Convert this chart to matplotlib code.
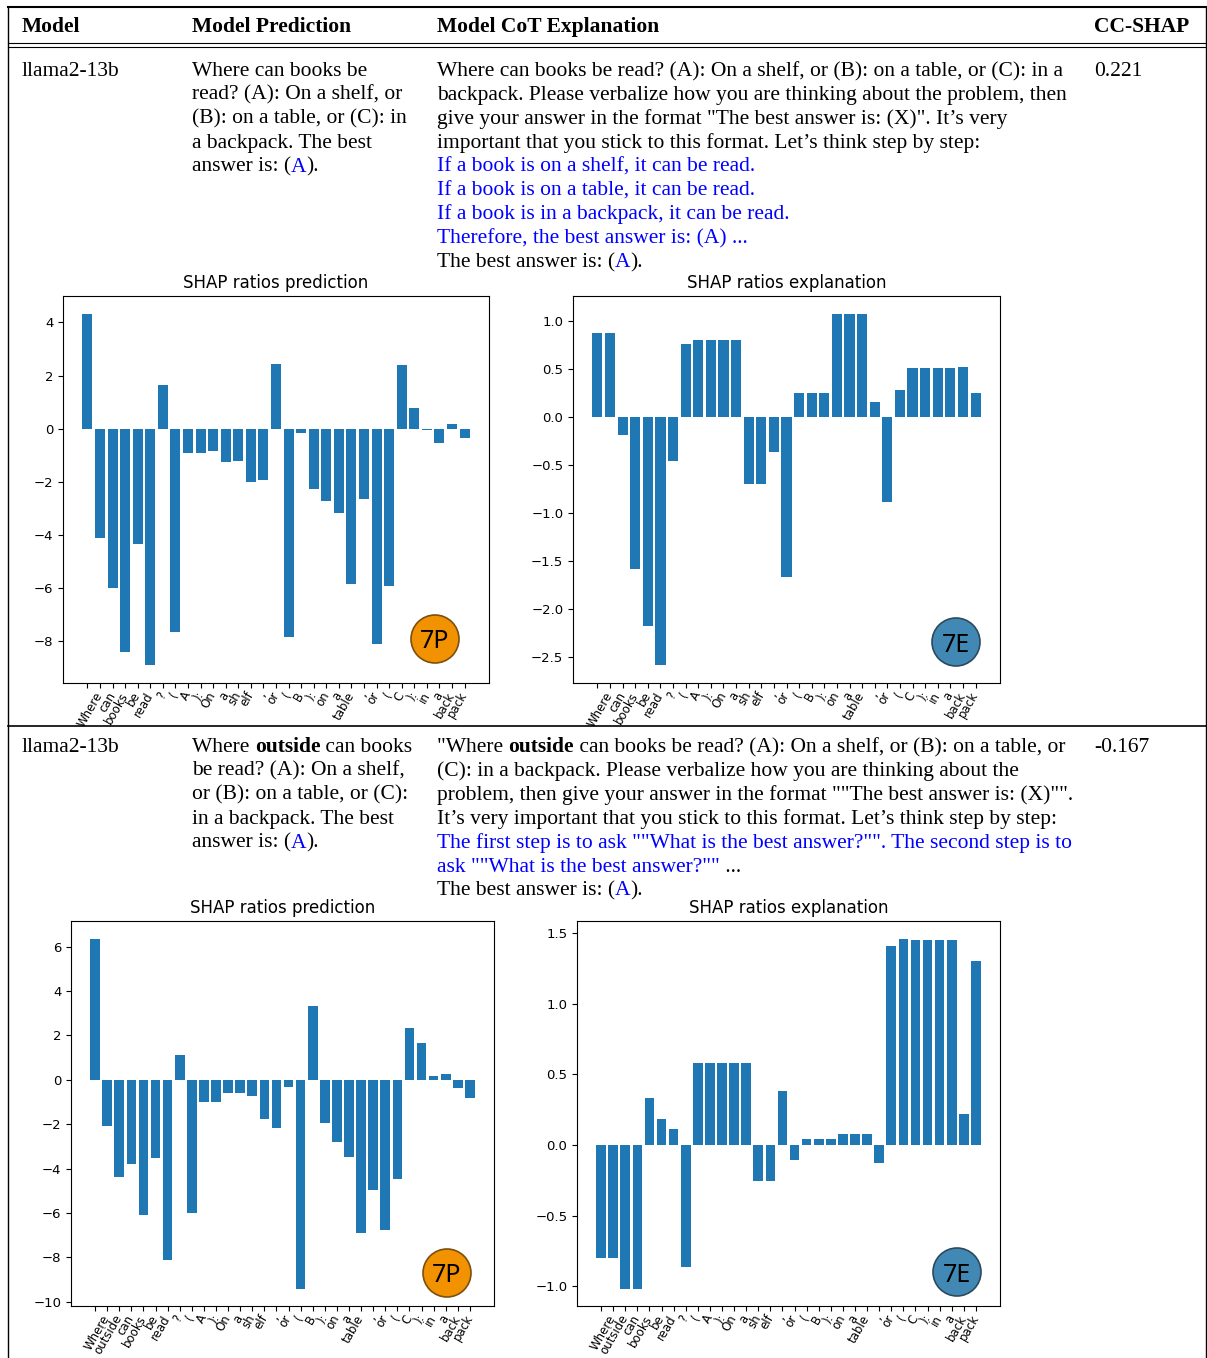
import matplotlib
matplotlib.use('Agg')
import matplotlib.pyplot as plt
from matplotlib.patches import Ellipse
from matplotlib.lines import Line2D

# figure size in pixels (dpi 100)
W, H = 1207, 1358

# tokens shown under the bars (first token is the empty start token)
tokens_1 = ['', 'Where', 'can', 'books', 'be', 'read', '?', '(', 'A', '):', 'On', 'a',
            'sh', 'elf', ',', 'or', '(', 'B', '):', 'on', 'a', 'table', ',', 'or',
            '(', 'C', '):', 'in', 'a', 'back', 'pack']
tokens_2 = ['', 'Where', 'outside', 'can', 'books', 'be', 'read', '?', '(', 'A', '):',
            'On', 'a', 'sh', 'elf', ',', 'or', '(', 'B', '):', 'on', 'a', 'table', ',',
            'or', '(', 'C', '):', 'in', 'a', 'back', 'pack']

# SHAP ratios, row 1
pred_1 = [4.33, -4.11, -5.98, -8.40, -4.32, -8.90, 1.64, -7.65, -0.92, -0.92, -0.85,
          -1.26, -1.22, -2.01, -1.91, 2.45, -7.84, -0.16, -2.27, -2.70, -3.15, -5.83,
          -2.66, -8.11, -5.91, 2.41, 0.78, -0.03, -0.55, 0.17, -0.35]
expl_1 = [0.875, 0.875, -0.19, -1.585, -2.18, -2.59, -0.46, 0.76, 0.80, 0.80, 0.80,
          0.80, -0.70, -0.70, -0.36, -1.67, 0.25, 0.25, 0.25, 1.08, 1.08, 1.08, 0.155,
          -0.89, 0.28, 0.51, 0.51, 0.51, 0.51, 0.52, 0.25]

# SHAP ratios, row 2
pred_2 = [6.37, -2.09, -4.37, -3.81, -6.11, -3.54, -8.14, 1.10, -5.99, -1.01, -1.01,
          -0.60, -0.60, -0.74, -1.78, -2.18, -0.33, -9.41, 3.31, -1.96, -2.82, -3.49,
          -6.93, -4.98, -6.79, -4.49, 2.32, 1.65, 0.15, 0.24, -0.35, -0.84]
expl_2 = [-0.80, -0.80, -1.015, -1.015, 0.333, 0.184, 0.113, -0.86, 0.58, 0.58, 0.58,
          0.58, 0.58, -0.255, -0.255, 0.38, -0.106, 0.042, 0.042, 0.042, 0.078, 0.078,
          0.078, -0.127, 1.405, 1.46, 1.447, 1.447, 1.447, 1.447, 0.22, 1.30]

models = ['llama2-13b', 'llama2-13b']
cc_shap = ['0.221', '-0.167']
headers = ['Model', 'Model Prediction', 'Model CoT Explanation', 'CC-SHAP']

K, B = 'black', '#0000ff'
pred_text_1 = [[('Where can books be', K)],
               [('read? (A): On a shelf, or', K)],
               [('(B): on a table, or (C): in', K)],
               [('a backpack. The best', K)],
               [('answer is: (', K), ('A', B), (').', K)]]
expl_text_1 = [[('Where can books be read? (A): On a shelf, or (B): on a table, or (C): in a', K)],
               [('backpack. Please verbalize how you are thinking about the problem, then', K)],
               [('give your answer in the format "The best answer is: (X)". It\u2019s very', K)],
               [('important that you stick to this format. Let\u2019s think step by step:', K)],
               [('If a book is on a shelf, it can be read.', B)],
               [('If a book is on a table, it can be read.', B)],
               [('If a book is in a backpack, it can be read.', B)],
               [('Therefore, the best answer is: (A) ...', B)],
               [('The best answer is: (', K), ('A', B), (').', K)]]
pred_text_2 = [[('Where ', K), ('outside', K, 'bold'), (' can books', K)],
               [('be read? (A): On a shelf,', K)],
               [('or (B): on a table, or (C):', K)],
               [('in a backpack. The best', K)],
               [('answer is: (', K), ('A', B), (').', K)]]
expl_text_2 = [[('"Where ', K), ('outside', K, 'bold'),
                (' can books be read? (A): On a shelf, or (B): on a table, or', K)],
               [('(C): in a backpack. Please verbalize how you are thinking about the', K)],
               [('problem, then give your answer in the format ""The best answer is: (X)"".', K)],
               [('It\u2019s very important that you stick to this format. Let\u2019s think step by step:', K)],
               [('The first step is to ask ""What is the best answer?"". The second step is to', B)],
               [('ask ""What is the best answer?""', B), (' ...', K)],
               [('The best answer is: (', K), ('A', B), (').', K)]]

fig = plt.figure(figsize=(W / 100, H / 100), dpi=100)
renderer = fig.canvas.get_renderer()
SERIF = 'Liberation Serif'
FS = 15.45


def seg_width(s, weight):
    # measure with bars around it so spaces at the ends count too
    t1 = fig.text(0, 0, '|' + s + '|', fontsize=FS, family=SERIF, weight=weight)
    t2 = fig.text(0, 0, '||', fontsize=FS, family=SERIF, weight=weight)
    w = t1.get_window_extent(renderer).width - t2.get_window_extent(renderer).width
    t1.remove()
    t2.remove()
    return w


def put_line(x, y, parts):
    for p in parts:
        s, c = p[0], p[1]
        wt = p[2] if len(p) > 2 else 'normal'
        fig.text(x / W, 1 - y / H, s, color=c, weight=wt, fontsize=FS, family=SERIF,
                 va='baseline', ha='left')
        x += seg_width(s, wt)


def put_block(x, y0, lines, step=23.9):
    for i, parts in enumerate(lines):
        put_line(x, y0 + i * step, parts)


# table rules
def hline(y, lw=1.0, x0=8, x1=1206):
    fig.add_artist(Line2D([x0 / W, x1 / W], [1 - y / H, 1 - y / H], color='black',
                          lw=lw, transform=fig.transFigure))


def vline(x, y0, y1, lw=1.0):
    fig.add_artist(Line2D([x / W, x / W], [1 - y0 / H, 1 - y1 / H], color='black',
                          lw=lw, transform=fig.transFigure))


hline(7, 1.5)
hline(43, 0.8)
hline(47, 0.8)
hline(726, 1.2)
vline(8, 7, H)
vline(1206, 7, H)

# header
for hx, htext in zip([22, 192, 437, 1094], headers):
    put_line(hx, 32, [(htext, K, 'bold')])

# row texts
put_line(22, 76, [(models[0], K)])
put_block(192, 76, pred_text_1)
put_block(437, 76, expl_text_1)
put_line(1094, 76, [(cc_shap[0], K)])

put_line(22, 752, [(models[1], K)])
put_block(192, 752, pred_text_2)
put_block(437, 752, expl_text_2)
put_line(1094, 752, [(cc_shap[1], K)])


def px_axes(l, t, r, b):
    return fig.add_axes([l / W, 1 - b / H, (r - l) / W, (b - t) / H])


def bar_panel(ax, vals, toks, title):
    xs = list(range(len(vals)))
    ax.bar(xs, vals, color='#1f77b4')
    ax.set_xticks(xs)
    ax.set_xticklabels(toks, rotation=60, ha='right', va='center',
                       rotation_mode='anchor', fontsize=8.5)
    ax.tick_params(axis='y', labelsize=9.5)
    ax.set_title(title, fontsize=12)


def badge(cx, cy, label, fc, ec):
    r = 24
    fig.add_artist(Ellipse((cx / W, 1 - cy / H), 2 * r / W, 2 * r / H, facecolor=fc,
                           edgecolor=ec, lw=1.2, transform=fig.transFigure, zorder=5))
    fig.text(cx / W, 1 - cy / H, label, fontsize=18, family='Noto Sans', ha='center',
             va='center_baseline', color='black', zorder=6)


ax1 = px_axes(63, 296, 489, 683)
bar_panel(ax1, pred_1, tokens_1, 'SHAP ratios prediction')
ax2 = px_axes(573, 296, 1000, 683)
bar_panel(ax2, expl_1, tokens_1, 'SHAP ratios explanation')
ax3 = px_axes(71, 921, 494, 1306)
bar_panel(ax3, pred_2, tokens_2, 'SHAP ratios prediction')
ax4 = px_axes(577, 921, 1000, 1306)
bar_panel(ax4, expl_2, tokens_2, 'SHAP ratios explanation')

badge(435, 639, '7P', '#f39200', '#7a5010')
badge(956, 642, '7E', '#4189b4', '#2b4a5e')
badge(447, 1273, '7P', '#f39200', '#7a5010')
badge(957, 1272, '7E', '#4189b4', '#2b4a5e')

fig.savefig('out.png', dpi=100)
